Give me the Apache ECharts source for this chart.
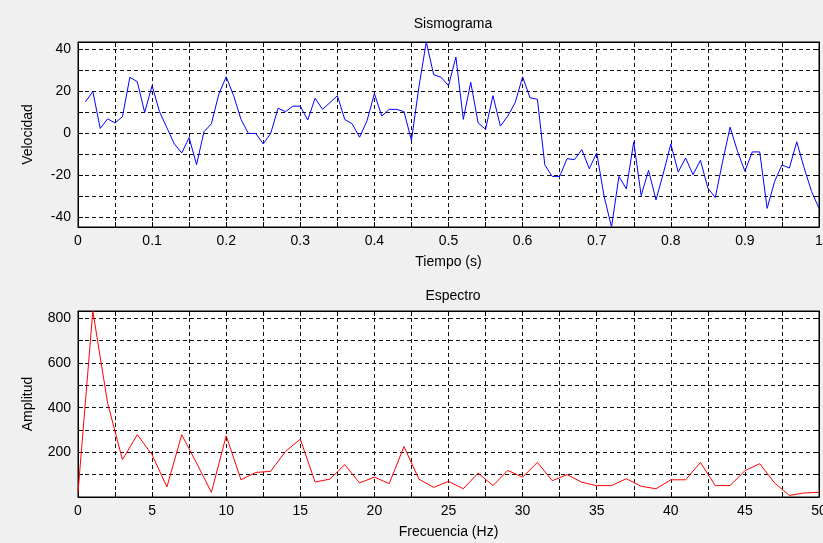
<!DOCTYPE html>
<html>
<head>
<meta charset="utf-8">
<script src="https://cdn.jsdelivr.net/npm/echarts@6/dist/echarts.min.js"></script>
<style>
  html, body { margin: 0; padding: 0; background: #f0f0f0; }
  #chart { width: 823px; height: 543px; }
</style>
</head>
<body>
<div id="chart"></div>
<script>
// sismograma: 100 muestras, fs = 100 Hz (t = 0.01 ... 1.00 s)
const fs = 100;
const velocidad = [
  15.1, 20, 2.4, 7, 5, 8, 26.8, 24.7, 10, 22.8,
  10.4, 2.7, -5, -9.3, -2, -14.9, 0.8, 4.6, 18.7, 27,
  18, 6.7, 0, 0, -5, 0, 12, 10.4, 13, 13,
  6.4, 16.8, 11.5, 14.7, 18, 6.7, 4.6, -1.8, 6, 19,
  8.3, 11.5, 11.5, 10.4, -3.4, 22, 43.6, 28, 26.8, 22.8,
  36.4, 6.7, 24.4, 5, 2, 18, 3.5, 8.3, 14.7, 27,
  17, 16.3, -15, -20.5, -20.5, -12, -12.5, -7.7, -16.8, -9.3,
  -30, -44.6, -20.5, -26.4, -4, -29.6, -17.6, -31.7, -18.9, -5,
  -18.4, -11.7, -19.7, -12.8, -26, -30.6, -13.3, 3, -8.5, -18,
  -8.8, -8.8, -35.7, -23, -15, -16.5, -4, -16.5, -27.7, -35.7
];
// espectro: 0 ... 50 Hz, paso 1 Hz
const df = 1;
const amplitud = [
  20, 833, 420, 167, 279, 189, 45, 279, 152, 21,
  274, 77, 110, 115, 204, 259, 67, 80, 145, 63,
  89, 60, 226, 80, 43, 70, 37, 107, 51, 119,
  89, 155, 73, 100, 66, 51, 51, 82, 48, 37,
  77, 77, 155, 51, 51, 118, 149, 63, 7, 18, 21
];

const font = 'Liberation Sans, Arial, sans-serif';
const chart = echarts.init(document.querySelector('#chart'), null, { renderer: 'canvas' });

const gridStyle = {
  show: true, backgroundColor: '#fff', borderColor: '#000', borderWidth: 1,
  containLabel: false, outerBoundsMode: 'none'
};
const dash = { show: true, lineStyle: { color: '#111', width: 1, type: [4, 3] } };
const tick = { show: true, inside: true, length: 5, lineStyle: { color: '#000' } };
const axLine = { show: true, onZero: false, lineStyle: { color: '#000' } };
const lbl = { color: '#000', fontSize: 14, fontFamily: font };
const nameStyle = { color: '#000', fontSize: 14, fontFamily: font };

function xAx(gi, min, max, interval, fmt, name) {
  return [
    {
      gridIndex: gi, type: 'value', min, max, interval,
      axisLine: axLine, axisTick: tick, splitLine: dash,
      axisLabel: Object.assign({ margin: 7, formatter: fmt }, lbl),
      name, nameLocation: 'middle', nameGap: 28, nameTextStyle: nameStyle
    },
    {
      gridIndex: gi, type: 'value', position: 'top', min, max, interval,
      axisLine: axLine, axisTick: tick, splitLine: { show: false },
      axisLabel: { show: false }
    }
  ];
}
function yAx(gi, opts, fmt, name) {
  const base = Object.assign({ gridIndex: gi, type: 'value' }, opts);
  return [
    Object.assign({}, base, {
      axisLine: axLine, axisTick: tick, splitLine: dash,
      axisLabel: Object.assign({ margin: 7, formatter: fmt, showMinLabel: false, showMaxLabel: false }, lbl),
      name, nameLocation: 'middle', nameGap: 43, nameRotate: 90, nameTextStyle: nameStyle
    }),
    Object.assign({}, base, {
      position: 'right',
      axisLine: axLine, axisTick: tick, splitLine: { show: false },
      axisLabel: { show: false }
    })
  ];
}

const fmtT = (v) => Math.round(v * 20) % 2 === 0 ? String(+v.toFixed(1)) : '';
const fmtF = (v) => Math.round(v * 2) % 2 === 0 ? String(Math.round(v)) : '';
const fmtV = (v) => Math.round(v) % 20 === 0 && Math.abs(v - Math.round(v)) < 1e-6 ? String(Math.round(v)) : '';
const fmtA = (v) => Math.round(v) % 200 === 0 ? String(Math.round(v)) : '';

const option = {
  backgroundColor: '#f0f0f0',
  animation: false,
  title: [
    { text: 'Sismograma', left: 448, top: 12, textAlign: 'center',
      textStyle: { fontSize: 14, fontWeight: 'normal', color: '#000', fontFamily: font } },
    { text: 'Espectro', left: 448, top: 284, textAlign: 'center',
      textStyle: { fontSize: 14, fontWeight: 'normal', color: '#000', fontFamily: font } }
  ],
  grid: [
    Object.assign({ left: 78, right: 4, top: 42, height: 185 }, gridStyle),
    Object.assign({ left: 78, right: 4, top: 311, height: 186 }, gridStyle)
  ],
  xAxis: [
    ...xAx(0, 0, 1, 0.05, fmtT, 'Tiempo (s)'),
    ...xAx(1, 0, 50, 2.5, fmtF, 'Frecuencia (Hz)')
  ],
  yAxis: [
    ...yAx(0, { min: -44.6, max: 43.6, splitNumber: 9 }, fmtV, 'Velocidad'),
    ...yAx(1, { min: 0, max: 833, interval: 100 }, fmtA, 'Amplitud')
  ],
  series: [
    {
      type: 'line', xAxisIndex: 0, yAxisIndex: 0, showSymbol: false,
      lineStyle: { color: '#0000ff', width: 1 },
      data: velocidad.map((v, i) => [(i + 1) / fs, v])
    },
    {
      type: 'line', xAxisIndex: 2, yAxisIndex: 2, showSymbol: false,
      lineStyle: { color: '#ff0000', width: 1 },
      data: amplitud.map((v, i) => [i * df, v])
    }
  ]
};
chart.setOption(option);
</script>
</body>
</html>
